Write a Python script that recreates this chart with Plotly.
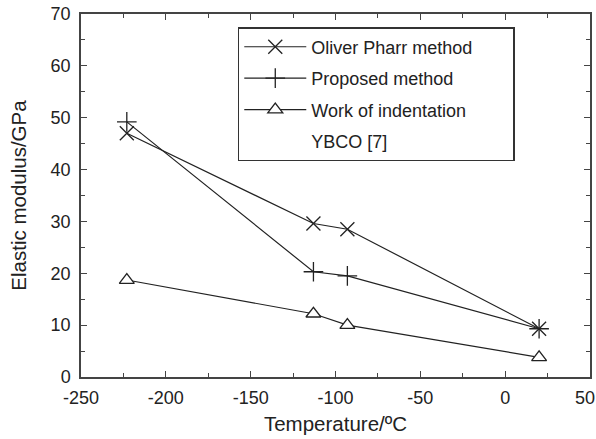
import plotly.graph_objects as go

temperature = [-223, -113, -93, 20]
oliver_pharr = [47.0, 29.6, 28.5, 9.3]
proposed = [49.2, 20.3, 19.5, 9.3]
work_indentation = [18.7, 12.2, 10.0, 3.8]

x_ticks = [-250, -200, -150, -100, -50, 0, 50]
x_tick_text = ["-250", "-200", "-150", "-100", "-50", "0", "50\u00a0\u00a0"]
y_ticks = [0, 10, 20, 30, 40, 50, 60, 70]

LINE = "#222222"
AX = "#444444"
FONT = "Liberation Sans, Arial, sans-serif"
PAD = "\u00a0" * 7

fig = go.Figure()
fig.add_trace(go.Scatter(x=temperature, y=oliver_pharr, mode="lines+markers",
                         name="Oliver Pharr method" + PAD, legendgroup="a",
                         line=dict(color=LINE, width=1.2),
                         marker=dict(symbol="x-thin-open", size=14, color=LINE,
                                     line=dict(color=LINE, width=1.3))))
fig.add_trace(go.Scatter(x=temperature, y=proposed, mode="lines+markers",
                         name="Proposed method", legendgroup="b",
                         line=dict(color=LINE, width=1.2),
                         marker=dict(symbol="cross-thin-open", size=14, color=LINE,
                                     line=dict(color=LINE, width=1.3))))
fig.add_trace(go.Scatter(x=temperature, y=work_indentation, mode="lines+markers",
                         name="Work of indentation", legendgroup="c",
                         line=dict(color=LINE, width=1.2),
                         marker=dict(symbol="triangle-up", size=13, color="white",
                                     line=dict(color=LINE, width=1.3))))
fig.add_trace(go.Scatter(x=[None], y=[None], mode="lines",
                         name="YBCO [7]", legendgroup="d",
                         line=dict(color="rgba(0,0,0,0)", width=0)))

axis_common = dict(showgrid=False, zeroline=False, showline=True, linecolor=AX,
                   linewidth=1.5, ticks="inside", ticklen=6, tickwidth=1.2,
                   tickcolor=AX, mirror="ticks", automargin=False,
                   tickfont=dict(family=FONT, size=18, color="#222"),
                   title_font=dict(family=FONT, size=20.5, color="#222"))

fig.update_xaxes(range=[-250, 50], tickvals=x_ticks, ticktext=x_tick_text,
                 minor=dict(dtick=25, ticks="inside", ticklen=4, tickcolor=AX, tickwidth=1),
                 ticklabelstandoff=4, ticklabeloverflow="allow",
                 title_text="Temperature/ºC", title_standoff=9, **axis_common)
fig.update_yaxes(range=[0, 70], tickvals=y_ticks,
                 minor=dict(dtick=5, ticks="inside", ticklen=4, tickcolor=AX, tickwidth=1),
                 ticklabelstandoff=5,
                 title_text="Elastic modulus/GPa", title_standoff=18, **axis_common)

fig.update_layout(
    width=596, height=439,
    margin=dict(l=81, r=6, t=14, b=62),
    plot_bgcolor="white", paper_bgcolor="white",
    font=dict(family=FONT, color="#222"),
    legend=dict(x=0.308, y=0.964, xanchor="left", yanchor="top",
                bordercolor="#333", borderwidth=1.5, bgcolor="white",
                font=dict(family=FONT, size=18, color="#222"),
                tracegroupgap=5, itemwidth=62),
    showlegend=True,
)

fig.write_html("out.html")
